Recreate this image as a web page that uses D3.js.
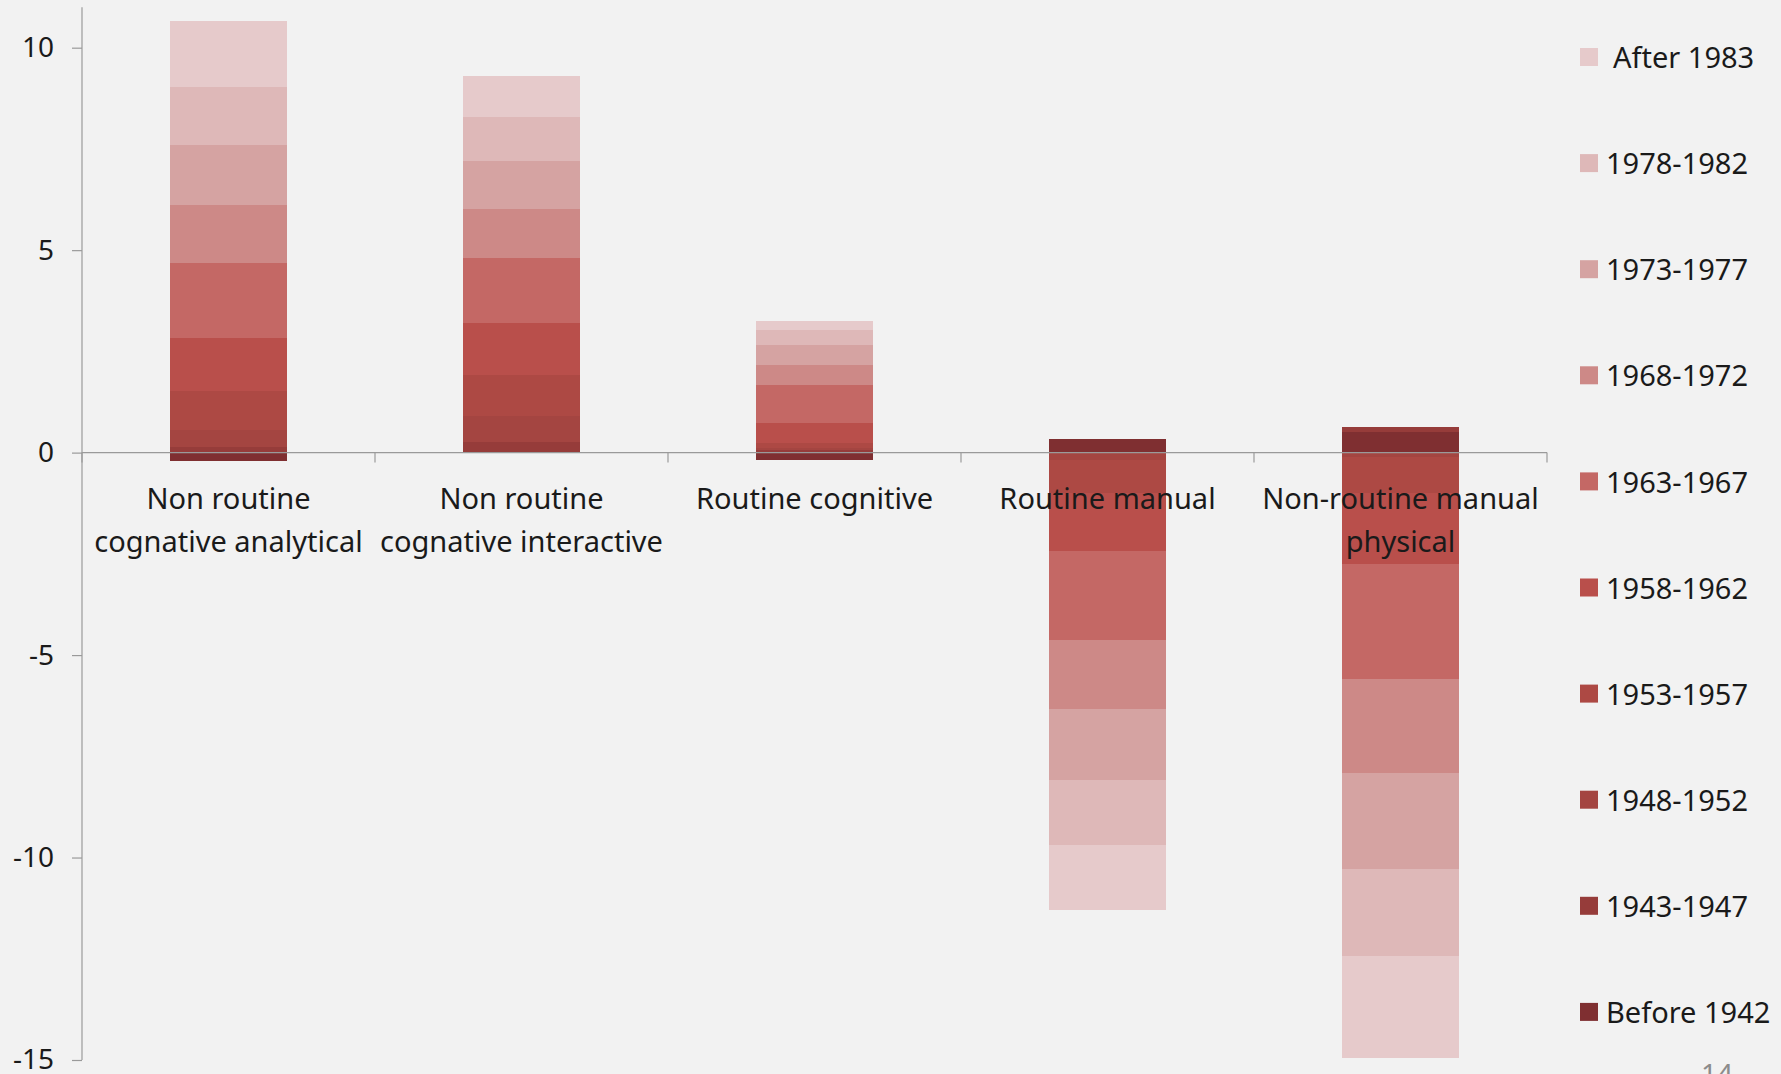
<!DOCTYPE html>
<html>
<head>
<meta charset="utf-8">
<script src="https://cdn.jsdelivr.net/npm/d3@7/dist/d3.min.js"></script>
<style>
  html, body { margin: 0; padding: 0; background: #f2f2f2; }
  svg { display: block; font-family: "Noto Sans", "Open Sans", sans-serif; }
</style>
</head>
<body>
<svg id="chart" width="1781" height="1074"></svg>
<script>
// Task categories (line breaks mark the two-line labels)
const categories = [
  "Non routine\ncognative analytical",
  "Non routine\ncognative interactive",
  "Routine cognitive",
  "Routine manual",
  "Non-routine manual\nphysical"
];

// Birth cohorts, stacked outward from zero in this order
const cohorts = [
  "Before 1942", "1943-1947", "1948-1952", "1953-1957", "1958-1962",
  "1963-1967", "1968-1972", "1973-1977", "1978-1982", "After 1983"
];

// Contribution of each cohort to the change, per task category
const before1942 = [-0.21, -0.02, -0.18, 0.33, 0.52];
const c1943_1947 = [0.15, 0.27, 0.06, 0.00, 0.12];
const c1948_1952 = [0.41, 0.63, 0.06, -0.18, -0.10];
const c1953_1957 = [0.96, 1.01, 0.12, -0.82, -0.90];
const c1958_1962 = [1.32, 1.29, 0.50, -1.42, -1.76];
const c1963_1967 = [1.85, 1.61, 0.92, -2.20, -2.83];
const c1968_1972 = [1.43, 1.20, 0.51, -1.71, -2.33];
const c1973_1977 = [1.48, 1.20, 0.48, -1.75, -2.36];
const c1978_1982 = [1.42, 1.07, 0.37, -1.60, -2.16];
const after1983  = [1.65, 1.02, 0.22, -1.62, -2.52];

const seriesValues = [before1942, c1943_1947, c1948_1952, c1953_1957, c1958_1962,
                      c1963_1967, c1968_1972, c1973_1977, c1978_1982, after1983];

const cohortColors = ["#7f2f31", "#963c3a", "#a44541", "#ad4944", "#b94f4b",
                      "#c46865", "#cd8987", "#d5a3a2", "#deb8b8", "#e6cacb"];

const yTicks = [-15, -10, -5, 0, 5, 10];
const yDomain = [-15, 11];

// Row table for d3.stack
const rows = categories.map((c, i) => {
  const r = { category: c };
  cohorts.forEach((k, j) => { r[k] = seriesValues[j][i]; });
  return r;
});

const svg = d3.select("#chart");
const W = 1781, H = 1074;
const plot = { left: 82, right: 1547, top: 7.2, bottom: 1060 };

svg.append("rect").attr("width", W).attr("height", H).attr("fill", "#f2f2f2");

const x = d3.scaleBand().domain(categories).range([plot.left, plot.right]).padding(0);
const y = d3.scaleLinear().domain(yDomain).range([plot.bottom, plot.top]);
const color = d3.scaleOrdinal().domain(cohorts).range(cohortColors);

const barFrac = 0.4;
const barW = x.bandwidth() * barFrac;

const stacked = d3.stack()
  .keys(cohorts)
  .order(d3.stackOrderNone)
  .offset(d3.stackOffsetDiverging)(rows);

// Stacked bars
const layers = svg.append("g")
  .attr("shape-rendering", "crispEdges")
  .selectAll("g")
  .data(stacked)
  .join("g")
  .attr("fill", d => color(d.key));

layers.selectAll("rect")
  .data(d => d)
  .join("rect")
  .attr("x", d => x(d.data.category) + (x.bandwidth() - barW) / 2)
  .attr("y", d => y(Math.max(d[0], d[1])))
  .attr("width", barW)
  .attr("height", d => Math.abs(y(d[0]) - y(d[1])));

// Y axis
const yAxis = svg.append("g")
  .attr("transform", `translate(${plot.left},0)`)
  .call(d3.axisLeft(y).tickValues(yTicks).tickSize(10).tickPadding(18).tickFormat(d3.format("d")));
yAxis.select(".domain").attr("stroke", "#9a9a9a").attr("stroke-width", 1.2)
  .attr("d", `M0,${plot.top}V${plot.bottom}`);
yAxis.selectAll(".tick line").attr("stroke", "#9a9a9a").attr("stroke-width", 1.2);
yAxis.selectAll(".tick text")
  .attr("font-size", 28).attr("fill", "#1a1a1a")
  .attr("font-family", "Noto Sans, Open Sans, sans-serif")
  .text(d => d < 0 ? "-" + Math.abs(d) : d);

// X axis along zero with tick marks on category boundaries
const y0 = y(0);
const xAxis = svg.append("g");
xAxis.append("line")
  .attr("x1", plot.left).attr("x2", plot.right)
  .attr("y1", y0).attr("y2", y0)
  .attr("stroke", "#9a9a9a").attr("stroke-width", 1.2);
const boundaries = categories.map(c => x(c) + x.bandwidth()).concat([x(categories[0])]);
xAxis.selectAll("line.b")
  .data(boundaries)
  .join("line")
  .attr("class", "b")
  .attr("x1", d => d).attr("x2", d => d)
  .attr("y1", y0).attr("y2", y0 + 10)
  .attr("stroke", "#9a9a9a").attr("stroke-width", 1.2);

// Category labels, drawn over the bars
const labelG = svg.append("g");
categories.forEach(c => {
  const lines = c.split("\n");
  const t = labelG.append("text")
    .attr("x", x(c) + x.bandwidth() / 2)
    .attr("y", y0 + 56)
    .attr("text-anchor", "middle")
    .attr("font-size", 29)
    .attr("fill", "#1a1a1a");
  lines.forEach((ln, i) => {
    t.append("tspan")
      .attr("x", x(c) + x.bandwidth() / 2)
      .attr("dy", i === 0 ? 0 : 43)
      .text(ln);
  });
});

// Legend: newest cohort at the top
const legendItems = cohorts.slice().reverse();
const legend = svg.append("g").attr("transform", "translate(1580,57)");
const li = legend.selectAll("g")
  .data(legendItems)
  .join("g")
  .attr("transform", (d, i) => `translate(0,${i * 106.1})`);
li.append("rect")
  .attr("x", 0).attr("y", -9).attr("width", 18).attr("height", 18)
  .attr("fill", d => color(d));
li.append("text")
  .attr("x", d => d === "After 1983" ? 33 : 26)
  .attr("y", 1)
  .attr("dy", "0.35em")
  .attr("font-size", 29)
  .attr("fill", "#1a1a1a")
  .text(d => d);

// Slide page number
svg.append("text")
  .attr("x", 1717).attr("y", 1084)
  .attr("text-anchor", "middle")
  .attr("font-size", 28)
  .attr("fill", "#8c8c8c")
  .text("14");
</script>
</body>
</html>
